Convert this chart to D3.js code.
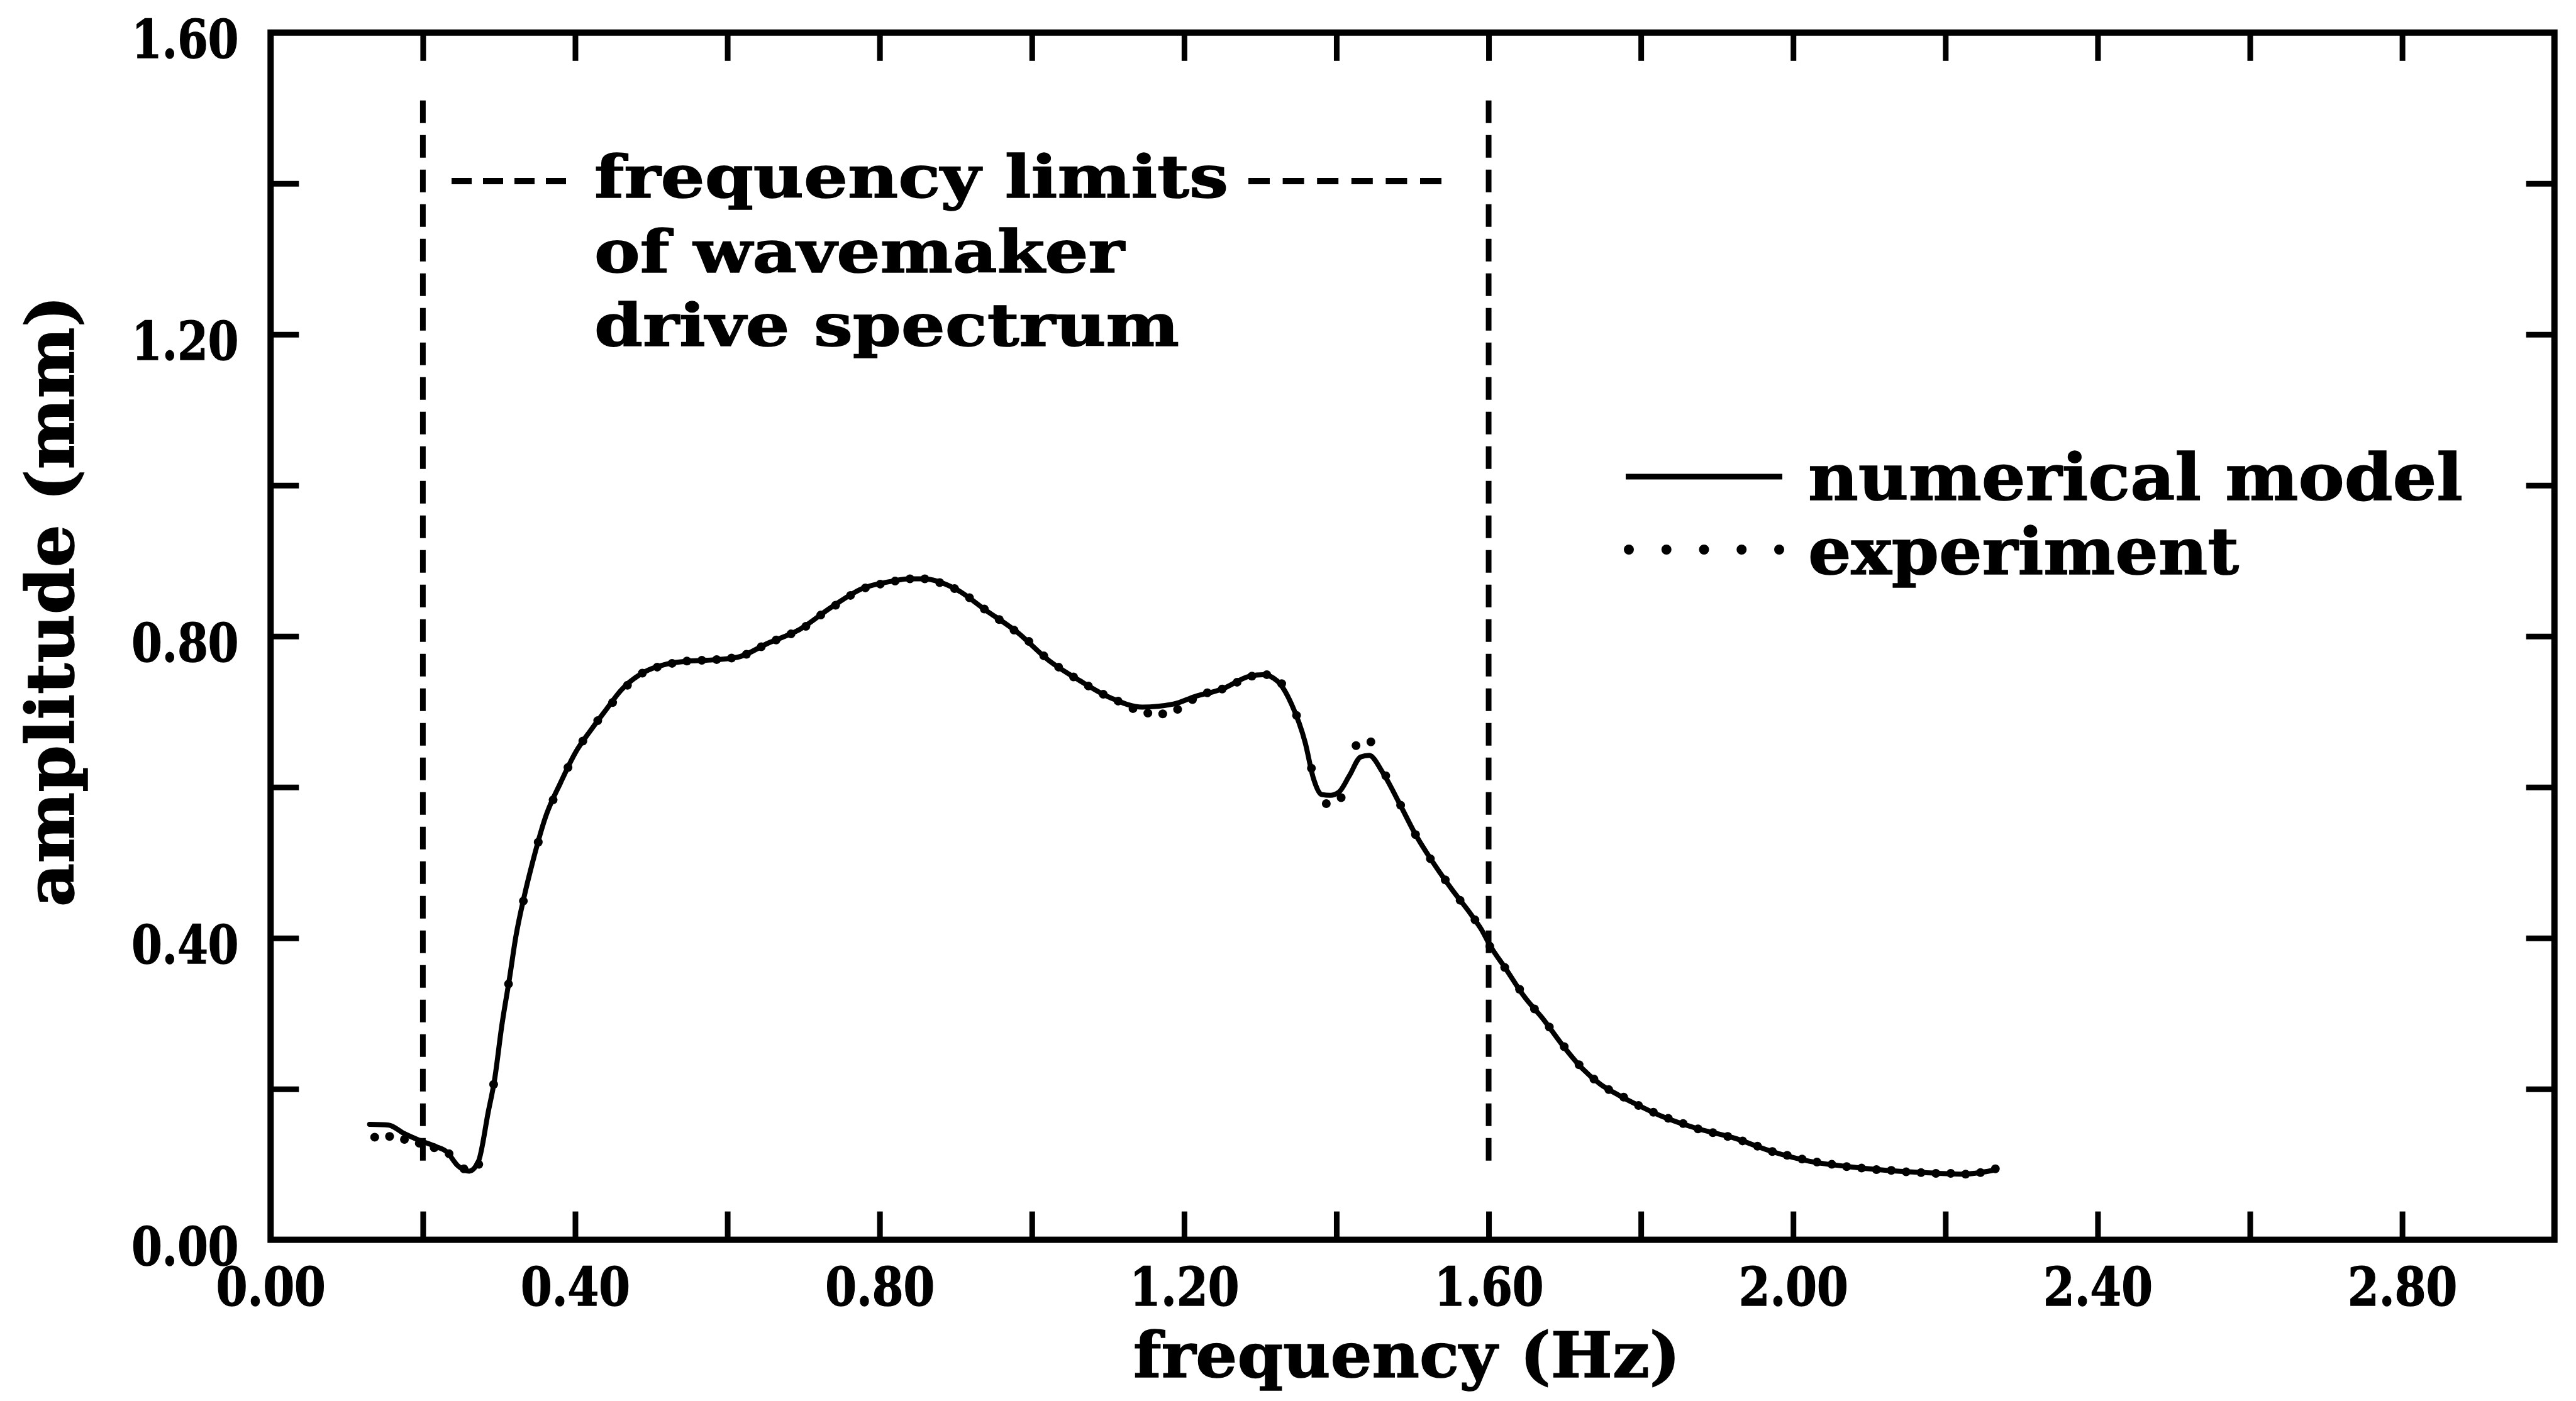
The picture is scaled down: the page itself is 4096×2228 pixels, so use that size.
<!DOCTYPE html>
<html>
<head>
<meta charset="utf-8">
<script src="https://cdn.jsdelivr.net/npm/d3@7"></script>
<style>
  html, body { margin: 0; padding: 0; background: #fff; }
  svg { display: block; }
  text {
    font-family: "DejaVu Serif", "Liberation Serif", serif;
    font-weight: bold;
    fill: #000;
    stroke: #000;
    stroke-width: 1.5px;
    paint-order: stroke;
  }
</style>
</head>
<body>
<svg id="chart" width="4096" height="2228"></svg>
<script>
// ---- axis ticks and labels ----
const xTickValues = [0.2, 0.4, 0.6, 0.8, 1.0, 1.2, 1.4, 1.6, 1.8, 2.0, 2.2, 2.4, 2.6, 2.8];
const xLabelValues = [0.0, 0.4, 0.8, 1.2, 1.6, 2.0, 2.4, 2.8];
const xLabels = ["0.00", "0.40", "0.80", "1.20", "1.60", "2.00", "2.40", "2.80"];
const yTickValues = [0.2, 0.4, 0.6, 0.8, 1.0, 1.2, 1.4];
const yLabelValues = [0.0, 0.4, 0.8, 1.2, 1.6];
const yLabels = ["0.00", "0.40", "0.80", "1.20", "1.60"];

// ---- numerical model: amplitude (mm) against frequency (Hz) ----
const modelFreq = [0.130, 0.155, 0.175, 0.195, 0.216, 0.232, 0.245, 0.261, 0.273, 0.286,
  0.294, 0.304, 0.314, 0.322, 0.334, 0.343, 0.361, 0.381, 0.400, 0.421,
  0.441, 0.460, 0.490, 0.520, 0.550, 0.572, 0.613, 0.654, 0.695, 0.736,
  0.777, 0.817, 0.838, 0.858, 0.899, 0.940, 0.981, 1.022, 1.063, 1.104,
  1.145, 1.186, 1.214, 1.250, 1.286, 1.304, 1.323, 1.341, 1.359, 1.370,
  1.381, 1.392, 1.403, 1.417, 1.432, 1.443, 1.461, 1.483, 1.504, 1.527,
  1.552, 1.577, 1.590, 1.603, 1.622, 1.647, 1.672, 1.697, 1.722, 1.747,
  1.772, 1.797, 1.822, 1.872, 1.922, 1.972, 2.022, 2.072, 2.123, 2.173,
  2.223, 2.262];
const modelAmp = [0.153, 0.152, 0.141, 0.132, 0.124, 0.116, 0.099, 0.091, 0.104, 0.170,
  0.211, 0.286, 0.348, 0.401, 0.459, 0.496, 0.560, 0.606, 0.645, 0.676,
  0.703, 0.728, 0.752, 0.763, 0.767, 0.768, 0.772, 0.791, 0.809, 0.838,
  0.863, 0.873, 0.876, 0.876, 0.863, 0.834, 0.805, 0.768, 0.741, 0.718,
  0.706, 0.710, 0.720, 0.730, 0.747, 0.749, 0.740, 0.710, 0.659, 0.611,
  0.590, 0.589, 0.593, 0.615, 0.640, 0.642, 0.619, 0.578, 0.537, 0.500,
  0.464, 0.431, 0.412, 0.388, 0.360, 0.322, 0.292, 0.258, 0.228, 0.206,
  0.191, 0.178, 0.166, 0.148, 0.135, 0.117, 0.104, 0.097, 0.092, 0.089,
  0.087, 0.092];

// ---- experiment: spectral estimates on a 1/51.2 Hz grid, starting at bin 7 ----
const expFreqStep = 1 / 51.2;
const expFirstBin = 7;
const expAmp = [0.136, 0.137, 0.133, 0.128, 0.122, 0.114, 0.094, 0.100, 0.206, 0.339,
  0.449, 0.527, 0.583, 0.626, 0.661, 0.688, 0.712, 0.735, 0.751, 0.759,
  0.764, 0.767, 0.768, 0.769, 0.771, 0.776, 0.786, 0.795, 0.803, 0.813,
  0.828, 0.841, 0.854, 0.864, 0.869, 0.873, 0.876, 0.876, 0.871, 0.863,
  0.851, 0.836, 0.822, 0.808, 0.793, 0.774, 0.759, 0.746, 0.734, 0.723,
  0.714, 0.704, 0.698, 0.697, 0.703, 0.716, 0.725, 0.730, 0.739, 0.747,
  0.749, 0.737, 0.695, 0.625, 0.578, 0.586, 0.655, 0.660, 0.615, 0.576,
  0.537, 0.505, 0.477, 0.450, 0.424, 0.389, 0.361, 0.332, 0.306, 0.282,
  0.256, 0.232, 0.213, 0.199, 0.189, 0.178, 0.169, 0.161, 0.154, 0.147,
  0.142, 0.137, 0.131, 0.124, 0.117, 0.112, 0.107, 0.103, 0.100, 0.097,
  0.095, 0.093, 0.092, 0.090, 0.089, 0.088, 0.088, 0.087, 0.089, 0.094];

// ---- frequency limits of the wavemaker drive spectrum ----
const driveLimits = [0.2, 1.6];
const driveLimitSpan = [0.10, 1.51];

// ---- text ----
const annotationLines = ["frequency limits", "of wavemaker", "drive spectrum"];
const legendLabels = ["numerical model", "experiment"];
const xTitle = "frequency (Hz)";
const yTitle = "amplitude (mm)";

const svg = d3.select("#chart");

const x = d3.scaleLinear().domain([0, 3]).range([430.3, 4061.7]);
const y = d3.scaleLinear().domain([0, 1.6]).range([1971.6, 51.8]);

// inward ticks on all four sides
function tickRow(axis, tx, ty) {
  svg.append("g")
    .attr("transform", `translate(${tx},${ty})`)
    .call(axis)
    .call(g => g.select(".domain").remove())
    .call(g => g.selectAll("text").remove())
    .selectAll("line")
    .attr("stroke", "#000")
    .attr("stroke-width", 9);
}
tickRow(d3.axisBottom(x).tickValues(xTickValues).tickSize(-45).tickFormat(""), 0, y(0));
tickRow(d3.axisTop(x).tickValues(xTickValues).tickSize(-45).tickFormat(""), 0, y(1.6));
tickRow(d3.axisLeft(y).tickValues(yTickValues).tickSize(-45).tickFormat(""), x(0), 0);
tickRow(d3.axisRight(y).tickValues(yTickValues).tickSize(-45).tickFormat(""), x(3), 0);

// plot frame
svg.append("rect")
  .attr("x", x(0)).attr("y", y(1.6))
  .attr("width", x(3) - x(0)).attr("height", y(0) - y(1.6))
  .attr("fill", "none").attr("stroke", "#000").attr("stroke-width", 10);

// tick labels
svg.append("g")
  .attr("transform", `translate(0,${y(0)})`)
  .call(d3.axisBottom(x).tickValues(xLabelValues).tickSize(0).tickFormat((d, i) => xLabels[i]))
  .call(g => g.select(".domain").remove())
  .call(g => g.selectAll("line").remove())
  .attr("font-family", null).attr("font-size", null)
  .selectAll("text")
  .attr("y", 104).attr("dy", null)
  .style("font-size", "84px")
  .attr("textLength", 174).attr("lengthAdjust", "spacingAndGlyphs");

svg.append("g")
  .attr("transform", `translate(${x(0)},0)`)
  .call(d3.axisLeft(y).tickValues(yLabelValues).tickSize(0).tickFormat((d, i) => yLabels[i]))
  .call(g => g.select(".domain").remove())
  .call(g => g.selectAll("line").remove())
  .attr("font-family", null).attr("font-size", null)
  .selectAll("text")
  .attr("x", -51).attr("y", 40).attr("dy", null)
  .style("font-size", "84px")
  .attr("textLength", 170).attr("lengthAdjust", "spacingAndGlyphs");

// dashed lines marking the drive spectrum limits
svg.append("g").selectAll("line")
  .data(driveLimits)
  .join("line")
  .attr("x1", d => x(d)).attr("x2", d => x(d))
  .attr("y1", y(driveLimitSpan[1])).attr("y2", y(driveLimitSpan[0]))
  .attr("stroke", "#000").attr("stroke-width", 9)
  .attr("stroke-dasharray", "36 19");

// numerical model curve
const modelData = modelFreq.map((f, i) => [f, modelAmp[i]]);
svg.append("path")
  .datum(modelData)
  .attr("fill", "none")
  .attr("stroke", "#000")
  .attr("stroke-width", 8)
  .attr("stroke-linejoin", "round")
  .attr("stroke-linecap", "round")
  .attr("d", d3.line().x(d => x(d[0])).y(d => y(d[1])).curve(d3.curveMonotoneX));

// experimental points
const expData = expAmp.map((a, i) => [(expFirstBin + i) * expFreqStep, a]);
svg.append("g").selectAll("circle")
  .data(expData)
  .join("circle")
  .attr("cx", d => x(d[0]))
  .attr("cy", d => y(d[1]))
  .attr("r", 7)
  .attr("fill", "#000");

// annotation: "---- frequency limits ------"
const note = svg.append("g");
note.append("line")
  .attr("x1", 718).attr("x2", 900).attr("y1", 288).attr("y2", 288)
  .attr("stroke", "#000").attr("stroke-width", 10).attr("stroke-dasharray", "32 18");
note.append("line")
  .attr("x1", 1985).attr("x2", 2292).attr("y1", 288).attr("y2", 288)
  .attr("stroke", "#000").attr("stroke-width", 10).attr("stroke-dasharray", "34 20.6");
const noteLengths = [1008, 843, 930];
const noteBaselines = [314, 433, 550];
note.selectAll("text")
  .data(annotationLines)
  .join("text")
  .attr("x", 945)
  .attr("y", (d, i) => noteBaselines[i])
  .style("font-size", "94px")
  .attr("textLength", (d, i) => noteLengths[i])
  .attr("lengthAdjust", "spacingAndGlyphs")
  .text(d => d);

// legend
const legend = svg.append("g");
legend.append("line")
  .attr("x1", 2585).attr("x2", 2834).attr("y1", 758).attr("y2", 758)
  .attr("stroke", "#000").attr("stroke-width", 9);
legend.selectAll("circle")
  .data(d3.range(5))
  .join("circle")
  .attr("cx", i => 2590 + i * 59.75)
  .attr("cy", 874)
  .attr("r", 8)
  .attr("fill", "#000");
const legendLengths = [1041, 685];
const legendBaselines = [795, 913];
legend.selectAll("text")
  .data(legendLabels)
  .join("text")
  .attr("x", 2875)
  .attr("y", (d, i) => legendBaselines[i])
  .style("font-size", "103px")
  .attr("textLength", (d, i) => legendLengths[i])
  .attr("lengthAdjust", "spacingAndGlyphs")
  .text(d => d);

// axis titles
svg.append("text")
  .attr("x", 2237).attr("y", 2190)
  .attr("text-anchor", "middle")
  .style("font-size", "100px")
  .attr("textLength", 870).attr("lengthAdjust", "spacingAndGlyphs")
  .text(xTitle);

svg.append("text")
  .attr("transform", "translate(117,956) rotate(-90)")
  .attr("text-anchor", "middle")
  .style("font-size", "104px")
  .attr("textLength", 972).attr("lengthAdjust", "spacingAndGlyphs")
  .text(yTitle);
</script>
</body>
</html>
